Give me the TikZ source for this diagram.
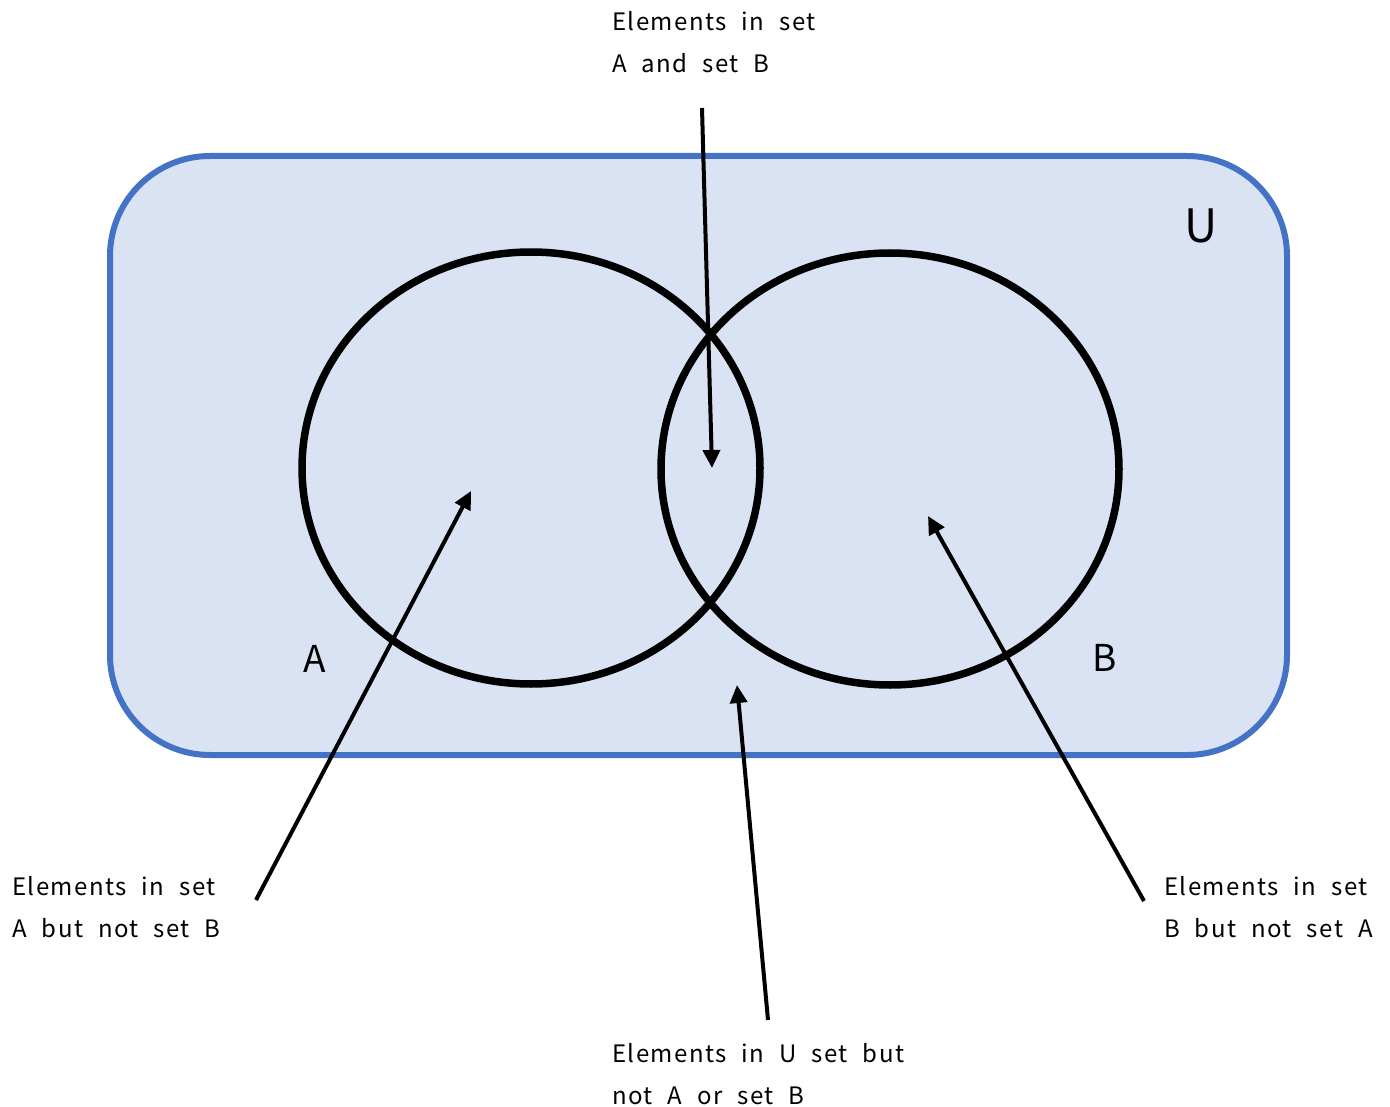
\documentclass[tikz,border=0pt]{standalone}
\usepackage{fontspec}
\setmainfont{Noto Sans CJK JP}[LetterSpace=6,WordSpace=2.2]
\usetikzlibrary{arrows.meta}
\definecolor{ublue}{HTML}{4472C4}
\definecolor{ufill}{HTML}{DAE3F3}
\begin{document}
\begin{tikzpicture}[x=1pt,y=-1pt,
  lbl/.style={anchor=north west,align=left,inner sep=0pt,font=\fontsize{24}{42}\selectfont},
  setlbl/.style={inner sep=0pt,font=\fontsize{37}{40}\selectfont},
  setring/.style={draw=black,line width=7.5pt},
  pointer/.style={draw=black,line width=4pt,-{Triangle[length=18pt,width=17pt]}}]
\useasboundingbox (0,0) rectangle (1390,1107);
\node[draw=ublue,fill=ufill,line width=6pt,rounded corners=100pt,minimum width=1177pt,minimum height=599pt,inner sep=0pt] (U) at (698.5,455.5) {};
\draw[setring] (531,468) ellipse [x radius=229, y radius=216];
\draw[setring] (890,469) ellipse [x radius=229, y radius=216];
\node[setlbl] (la) at (315,659) {A};
\node[setlbl] (lb) at (1105,658) {B};
\node[inner sep=0pt,font=\fontsize{46}{50}\selectfont] (lu) at (1201,226) {U};
\node[lbl] (tAB) at (612,11) {Elements in set\\A and set B};
\node[lbl] (tA) at (12,876) {Elements in set\\A but not set B};
\node[lbl] (tB) at (1164,876) {Elements in set\\B but not set A};
\node[lbl] (tU) at (612,1043) {Elements in U set but\\not A or set B};
\coordinate (s1) at (702,108); \coordinate (e1) at (712,468);
\coordinate (s2) at (256,900); \coordinate (e2) at (471,491);
\coordinate (s3) at (768,1020); \coordinate (e3) at (737,685);
\coordinate (s4) at (1144,901); \coordinate (e4) at (928,516);
\draw[pointer] (s1) -- (e1);
\draw[pointer] (s2) -- (e2);
\draw[pointer] (s3) -- (e3);
\draw[pointer] (s4) -- (e4);
\end{tikzpicture}
\end{document}
